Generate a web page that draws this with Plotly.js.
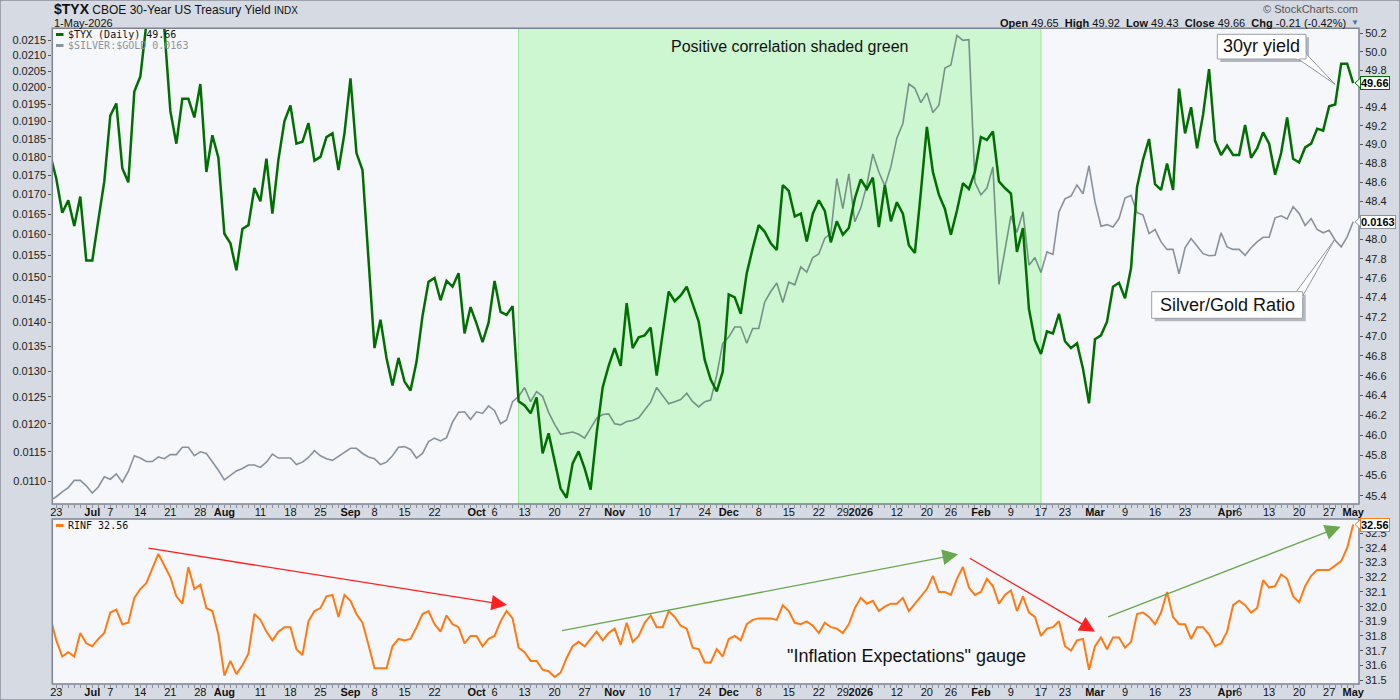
<!DOCTYPE html>
<html>
<head>
<meta charset="utf-8">
<script src="https://cdn.plot.ly/plotly-3.0.1.min.js"></script>
<style>
html,body{margin:0;padding:0;background:#d6dae2;}
#chart{width:1400px;height:700px;}
</style>
</head>
<body>
<div id="chart"></div>
<script>
// ---------------- DATA ----------------
const firstDay = '2025-06-20';
const lastDay = '2026-05-01';
const marketHolidays = ['2025-07-04','2025-09-01','2025-11-27','2025-12-25','2026-01-01','2026-01-19','2026-02-16','2026-04-03'];

// $TYX daily close (x10)
const tyx = [
48.89,48.64,48.28,48.41,48.14,48.45,47.78,47.78,48.20,48.61,
49.31,49.44,48.75,48.60,49.57,49.73,50.30,50.45,50.40,50.25,
49.36,49.01,49.49,49.49,49.29,49.65,48.71,49.10,48.86,48.06,
47.96,47.68,48.11,48.15,48.54,48.40,48.85,48.27,48.84,49.25,
49.42,49.01,49.03,49.23,48.83,48.87,49.08,49.12,48.73,49.12,
49.71,48.91,48.73,47.80,46.88,47.17,46.78,46.50,46.78,46.54,
46.45,46.74,47.21,47.56,47.60,47.37,47.57,47.51,47.65,47.03,
47.30,47.13,46.94,47.14,47.57,47.25,47.22,47.31,46.34,46.30,
46.22,46.38,45.82,46.02,45.75,45.47,45.38,45.72,45.84,45.67,
45.46,46.02,46.48,46.70,46.88,46.70,47.34,46.88,46.99,47.01,
47.09,46.60,47.03,47.46,47.36,47.42,47.51,47.32,47.15,46.76,
46.56,46.44,46.64,47.43,47.40,47.23,47.65,47.91,48.15,48.08,
47.96,47.89,48.57,48.51,48.24,48.27,47.98,48.27,48.41,48.30,
47.97,48.19,48.05,48.12,48.43,48.63,48.53,48.65,48.13,48.57,
48.19,48.39,48.27,47.94,47.86,48.50,49.19,48.71,48.47,48.32,
48.05,48.30,48.59,48.53,48.71,49.08,49.05,49.14,48.61,48.54,
48.48,47.87,48.12,47.28,46.96,46.82,47.05,47.03,47.23,46.95,
46.88,46.93,46.67,46.32,46.97,47.01,47.15,47.51,47.55,47.39,
47.70,48.55,48.84,49.06,48.58,48.52,48.80,48.52,49.60,49.12,
49.40,48.96,49.32,49.81,49.04,48.89,48.99,48.89,48.89,49.21,
48.86,48.96,49.13,49.01,48.68,48.91,49.29,48.85,48.81,48.97,
49.01,49.17,49.15,49.41,49.43,49.87,49.87,49.66
];

// $SILVER:$GOLD ratio
const silverGold = [
0.01068,0.01074,0.01082,0.01089,0.01101,0.01101,0.01092,0.01080,0.01090,0.01107,
0.01103,0.01112,0.01098,0.01116,0.01143,0.01139,0.01133,0.01133,0.01141,0.01138,
0.01145,0.01145,0.01158,0.01158,0.01143,0.01150,0.01147,0.01133,0.01118,0.01102,
0.01109,0.01117,0.01121,0.01127,0.01127,0.01123,0.01132,0.01146,0.01139,0.01139,
0.01139,0.01128,0.01132,0.01140,0.01152,0.01143,0.01138,0.01135,0.01142,0.01148,
0.01156,0.01156,0.01147,0.01141,0.01138,0.01128,0.01132,0.01143,0.01158,0.01159,
0.01154,0.01139,0.01147,0.01168,0.01174,0.01169,0.01175,0.01203,0.01221,0.01222,
0.01208,0.01222,0.01219,0.01233,0.01224,0.01200,0.01207,0.01241,0.01251,0.01268,
0.01241,0.01260,0.01251,0.01221,0.01199,0.01181,0.01183,0.01185,0.01181,0.01174,
0.01192,0.01210,0.01217,0.01218,0.01200,0.01198,0.01204,0.01206,0.01211,0.01226,
0.01240,0.01268,0.01252,0.01237,0.01241,0.01245,0.01257,0.01241,0.01231,0.01241,
0.01244,0.01292,0.01356,0.01369,0.01390,0.01390,0.01356,0.01387,0.01387,0.01444,
0.01467,0.01486,0.01443,0.01488,0.01482,0.01523,0.01511,0.01545,0.01553,0.01591,
0.01602,0.01742,0.01664,0.01754,0.01631,0.01666,0.01725,0.01808,0.01759,0.01722,
0.01773,0.01852,0.01894,0.02011,0.01998,0.01955,0.01984,0.01926,0.01947,0.02060,
0.02070,0.02165,0.02149,0.02151,0.01732,0.01699,0.01717,0.01773,0.01483,0.01566,
0.01646,0.01605,0.01656,0.01527,0.01545,0.01510,0.01558,0.01552,0.01656,0.01689,
0.01696,0.01725,0.01702,0.01776,0.01681,0.01620,0.01624,0.01618,0.01639,0.01691,
0.01698,0.01654,0.01648,0.01602,0.01612,0.01582,0.01564,0.01564,0.01507,0.01568,
0.01590,0.01572,0.01554,0.01549,0.01550,0.01604,0.01570,0.01564,0.01564,0.01550,
0.01568,0.01582,0.01593,0.01593,0.01641,0.01646,0.01638,0.01669,0.01652,0.01622,
0.01639,0.01612,0.01604,0.01610,0.01586,0.01570,0.01594,0.01631
];

// RINF
const rinf = [
31.93,31.77,31.66,31.69,31.66,31.82,31.75,31.73,31.78,31.82,
31.96,31.98,31.88,31.89,32.06,32.12,32.16,32.26,32.36,32.28,
32.20,32.07,32.02,32.27,32.12,32.15,31.99,31.97,31.81,31.53,
31.63,31.54,31.60,31.68,31.95,31.91,31.83,31.77,31.83,31.86,
31.86,31.71,31.67,31.90,31.97,31.99,32.07,32.08,31.93,32.08,
32.04,31.95,31.89,31.74,31.58,31.58,31.58,31.73,31.78,31.77,
31.78,31.86,31.95,31.97,31.88,31.83,31.94,31.88,31.86,31.75,
31.80,31.80,31.73,31.78,31.80,31.90,31.97,31.92,31.72,31.69,
31.63,31.63,31.57,31.56,31.52,31.55,31.65,31.73,31.76,31.73,
31.78,31.83,31.77,31.82,31.85,31.74,31.89,31.76,31.80,31.89,
31.94,31.86,31.86,31.97,31.93,31.87,31.85,31.72,31.71,31.62,
31.62,31.71,31.66,31.78,31.80,31.77,31.88,31.91,31.92,31.92,
31.92,31.91,32.01,31.97,31.89,31.88,31.90,31.87,31.82,31.89,
31.86,31.85,31.82,31.88,31.99,32.06,32.02,32.04,31.97,32.00,
32.02,32.02,32.06,31.97,32.02,32.07,32.12,32.21,32.10,32.10,
32.08,32.19,32.27,32.13,32.08,32.10,32.19,32.14,32.02,32.08,
32.11,31.97,32.07,31.96,31.93,31.80,31.85,31.86,31.90,31.73,
31.70,31.77,31.78,31.57,31.73,31.79,31.71,31.79,31.79,31.72,
31.76,31.95,31.96,31.93,31.88,31.96,32.10,31.93,31.88,31.88,
31.78,31.86,31.86,31.81,31.73,31.75,31.83,32.01,32.04,32.01,
31.96,31.99,32.18,32.13,32.14,32.22,32.19,32.07,32.03,32.14,
32.21,32.25,32.25,32.25,32.28,32.31,32.40,32.56
];

// date axis labels
const dateTickDays = ['2025-06-23','2025-07-01','2025-07-07','2025-07-14','2025-07-21','2025-07-28','2025-08-01','2025-08-11','2025-08-18','2025-08-25','2025-09-02','2025-09-08','2025-09-15','2025-09-22','2025-10-01','2025-10-06','2025-10-13','2025-10-20','2025-10-27','2025-11-03','2025-11-10','2025-11-17','2025-11-24','2025-12-01','2025-12-08','2025-12-15','2025-12-22','2025-12-29','2026-01-02','2026-01-12','2026-01-20','2026-01-26','2026-02-02','2026-02-09','2026-02-17','2026-02-23','2026-03-02','2026-03-09','2026-03-16','2026-03-23','2026-04-01','2026-04-06','2026-04-13','2026-04-20','2026-04-27','2026-05-01'];
const dateTickLabels = ['23','<b>Jul</b>','7','14','21','28','<b>Aug</b>','11','18','25','<b>Sep</b>','8','15','22','<b>Oct</b>','6','13','20','27','<b>Nov</b>','10','17','24','<b>Dec</b>','8','15','22','29','<b>2026</b>','12','20','26','<b>Feb</b>','9','17','23','<b>Mar</b>','9','16','23','<b>Apr</b>','6','13','20','27','<b>May</b>'];

const tyxTicks = [45.4,45.6,45.8,46.0,46.2,46.4,46.6,46.8,47.0,47.2,47.4,47.6,47.8,48.0,48.2,48.4,48.6,48.8,49.0,49.2,49.4,49.6,49.8,50.0,50.2];
const tyxTicksUnderTags = [49.6, 48.2];   // labels hidden behind the last-value tags
const ratioTicks = [0.0110,0.0115,0.0120,0.0125,0.0130,0.0135,0.0140,0.0145,0.0150,0.0155,0.0160,0.0165,0.0170,0.0175,0.0180,0.0185,0.0190,0.0195,0.0200,0.0205,0.0210,0.0215];
const rinfTicks = [31.5,31.6,31.7,31.8,31.9,32.0,32.1,32.2,32.3,32.4,32.5];

const shadeStart = '2025-10-10';
const shadeEnd = '2026-02-17';

// ---------------- BUILD ----------------
function buildTradingDays(from, to, holidays){
  const out = [];
  const d = new Date(from + 'T12:00:00Z');
  const end = new Date(to + 'T12:00:00Z');
  while (d <= end) {
    const wd = d.getUTCDay();
    const s = d.toISOString().slice(0,10);
    if (wd !== 0 && wd !== 6 && holidays.indexOf(s) < 0) out.push(s);
    d.setUTCDate(d.getUTCDate() + 1);
  }
  return out;
}
const days = buildTradingDays(firstDay, lastDay, marketHolidays);
const idx = d => days.indexOf(d);
const tickText = days.map(d => { const k = dateTickDays.indexOf(d); return k < 0 ? '' : dateTickLabels[k]; });

const W = 1400, H = 700;
const px = v => v / W;
const py = v => 1 - v / H;
const UI = 'Liberation Sans, Arial, sans-serif';
const MONO = 'DejaVu Sans Mono, monospace';

const lastTyx = tyx[tyx.length-1];
const lastRatio = silverGold[silverGold.length-1];
const lastRinf = rinf[rinf.length-1];

const topDom = [py(504), py(28.3)];
const botDom = [py(684), py(519)];
const xDom = [px(52.3), px(1359)];
const tyxRange = [1.656272, 1.701176];
const ratioRange = [-1.973786, -1.659840];
const rinfRange = [31.4727, 32.5975];

// paper y of a value on an axis (for the tag notches)
const toPaper = (v, dom, rng, isLog) => {
  const c = isLog ? Math.log10(v) : v;
  return dom[0] + (c - rng[0]) / (rng[1] - rng[0]) * (dom[1] - dom[0]);
};

const xRange = [0.34, 217.97];
const xCommon = {
  type:'category', range:xRange, autorange:false,
  tickmode:'array', tickvals:days, ticktext:tickText, tickangle:0,
  ticks:'outside', ticklen:3, tickcolor:'#8a909b', tickwidth:1,
  ticklabelstandoff:-5,
  tickfont:{family:UI, size:11, color:'#111'},
  showgrid:false, zeroline:false, showline:false, fixedrange:true
};
const yTickFont = {family:UI, size:11, color:'#222'};

const traces = [
  {x:days, y:silverGold, type:'scatter', mode:'lines', xaxis:'x', yaxis:'y',
   line:{color:'rgba(30,46,62,0.5)', width:1.6}, hoverinfo:'skip'},
  {x:days, y:tyx, type:'scatter', mode:'lines', xaxis:'x', yaxis:'y2',
   line:{color:'#006e00', width:2.5}, hoverinfo:'skip'},
  {x:days, y:rinf, type:'scatter', mode:'lines', xaxis:'x2', yaxis:'y3',
   line:{color:'#ff7a12', width:2}, hoverinfo:'skip'}
];

function notch(yPaper, color){
  const dy = 5 / H;
  return {type:'path', xref:'paper', yref:'paper',
    path:'M'+px(1360.5)+','+(yPaper+dy)+' L'+px(1355)+','+yPaper+' L'+px(1360.5)+','+(yPaper-dy)+' Z',
    fillcolor:'#ffffff', line:{color:color, width:1}, layer:'above'};
}

const shapes = [
  // positive correlation shading
  {type:'rect', xref:'x', yref:'y domain', x0:idx(shadeStart), x1:idx(shadeEnd), y0:0, y1:1,
   fillcolor:'rgb(205,247,209)', line:{color:'rgb(150,232,150)', width:1}, layer:'below'},
  // panel borders
  {type:'rect', xref:'paper', yref:'paper', x0:px(52.3), x1:px(1359), y0:py(504), y1:py(28.3),
   line:{color:'#7d8491', width:1.5}, layer:'above'},
  {type:'rect', xref:'paper', yref:'paper', x0:px(52.3), x1:px(1359), y0:py(684), y1:py(519),
   line:{color:'#7d8491', width:1.5}, layer:'above'},
  // outer frame
  {type:'rect', xref:'paper', yref:'paper', x0:0, x1:1, y0:0, y1:1,
   line:{color:'#8a909b', width:1.5}, layer:'above'},
  // legend swatches
  {type:'line', xref:'paper', yref:'paper', x0:px(56), x1:px(63.5), y0:py(34.5), y1:py(34.5), line:{color:'#006e00', width:3}},
  {type:'line', xref:'paper', yref:'paper', x0:px(56), x1:px(63.5), y0:py(45.5), y1:py(45.5), line:{color:'#8a949c', width:3}},
  {type:'line', xref:'paper', yref:'paper', x0:px(56), x1:px(63.5), y0:py(525.5), y1:py(525.5), line:{color:'#ff7a12', width:3}},
  // callout 1: 30yr yield
  {type:'rect', xref:'paper', yref:'paper', x0:px(1220.3), x1:px(1309), y0:py(62), y1:py(37.3),
   fillcolor:'#b3b7bf', line:{width:0}, layer:'above'},
  {type:'path', xref:'paper', yref:'paper',
   path:'M'+px(1296)+','+py(57.5)+' L'+px(1335)+','+py(84.3)+' L'+px(1304.5)+','+py(52)+' Z',
   fillcolor:'#ffffff', line:{color:'#8f949c', width:1}, layer:'above'},
  {type:'rect', xref:'paper', yref:'paper', x0:px(1217.3), x1:px(1306), y0:py(59), y1:py(34.3),
   fillcolor:'#ffffff', line:{color:'#9a9ea6', width:1}, layer:'above'},
  {type:'path', xref:'paper', yref:'paper',
   path:'M'+px(1296.7)+','+py(58.5)+' L'+px(1305.5)+','+py(53.5),
   line:{color:'#ffffff', width:2}, layer:'above'},
  // callout 2: Silver/Gold Ratio
  {type:'rect', xref:'paper', yref:'paper', x0:px(1154.7), x1:px(1305.7), y0:py(321.3), y1:py(294.7),
   fillcolor:'#b3b7bf', line:{width:0}, layer:'above'},
  {type:'path', xref:'paper', yref:'paper',
   path:'M'+px(1295)+','+py(293.5)+' L'+px(1335)+','+py(239)+' L'+px(1301.5)+','+py(298)+' Z',
   fillcolor:'#ffffff', line:{color:'#8f949c', width:1}, layer:'above'},
  {type:'rect', xref:'paper', yref:'paper', x0:px(1151.7), x1:px(1302.7), y0:py(318.3), y1:py(291.7),
   fillcolor:'#ffffff', line:{color:'#9a9ea6', width:1}, layer:'above'},
  {type:'path', xref:'paper', yref:'paper',
   path:'M'+px(1296.5)+','+py(292.2)+' L'+px(1302.2)+','+py(297)+'',
   line:{color:'#ffffff', width:2}, layer:'above'},
  // last-value tag notches
  notch(toPaper(lastTyx, topDom, tyxRange, true), '#006e00'),
  notch(toPaper(lastRatio, topDom, ratioRange, true), '#8a949c'),
  notch(toPaper(lastRinf, botDom, rinfRange, false), '#ff7a12')
];

const NB = '\u00a0';
const annotations = [
  // header
  {xref:'paper', yref:'paper', x:px(52), y:py(9.5), xanchor:'left', yanchor:'middle', showarrow:false,
   text:"<b><span style='font-size:14px'>$TYX</span></b> CBOE 30-Year US Treasury Yield <span style='font-size:10px'>INDX</span>",
   font:{family:UI, size:12, color:'#111'}},
  {xref:'paper', yref:'paper', x:px(52), y:py(22.7), xanchor:'left', yanchor:'middle', showarrow:false,
   text:'1-May-2026', font:{family:UI, size:11, color:'#111'}},
  {xref:'paper', yref:'paper', x:px(1360), y:py(9), xanchor:'right', yanchor:'middle', showarrow:false,
   text:'\u00a9 StockCharts.com', font:{family:UI, size:11, color:'#555'}},
  {xref:'paper', yref:'paper', x:px(1348), y:py(22.7), xanchor:'right', yanchor:'middle', showarrow:false,
   text:'<b>Open</b> 49.65'+NB+NB+'<b>High</b> 49.92'+NB+NB+'<b>Low</b> 49.43'+NB+NB+'<b>Close</b> 49.66'+NB+NB+'<b>Chg</b> -0.21 (-0.42%)',
   font:{family:UI, size:11, color:'#111'}},
  {xref:'paper', yref:'paper', x:px(1355), y:py(23), xanchor:'center', yanchor:'middle', showarrow:false,
   text:'\u25BC', font:{family:UI, size:8, color:'#4a6ea8'}},
  // legends
  {xref:'paper', yref:'paper', x:px(66), y:py(34.5), xanchor:'left', yanchor:'middle', showarrow:false,
   text:'$TYX (Daily) ' + lastTyx.toFixed(2), font:{family:MONO, size:10, color:'#111'}},
  {xref:'paper', yref:'paper', x:px(66), y:py(45.5), xanchor:'left', yanchor:'middle', showarrow:false,
   text:'$SILVER:$GOLD ' + lastRatio.toFixed(4), font:{family:MONO, size:10, color:'#8a949c'}},
  {xref:'paper', yref:'paper', x:px(66), y:py(525.5), xanchor:'left', yanchor:'middle', showarrow:false,
   text:'RINF ' + lastRinf.toFixed(2), font:{family:MONO, size:10, color:'#111'}},
  // text notes
  {xref:'paper', yref:'paper', x:px(789), y:py(46.7), xanchor:'center', yanchor:'middle', showarrow:false,
   text:'Positive correlation shaded green', font:{family:UI, size:16, color:'#111'}},
  {xref:'paper', yref:'paper', x:px(1261.7), y:py(46.5), xanchor:'center', yanchor:'middle', showarrow:false,
   text:'30yr yield', font:{family:UI, size:18, color:'#111'}},
  {xref:'paper', yref:'paper', x:px(1227.2), y:py(305), xanchor:'center', yanchor:'middle', showarrow:false,
   text:'Silver/Gold Ratio', font:{family:UI, size:18, color:'#111'}},
  {xref:'paper', yref:'paper', x:px(906), y:py(655.7), xanchor:'center', yanchor:'middle', showarrow:false,
   text:'"Inflation Expectations" gauge', font:{family:UI, size:18, color:'#111'}},
  // value tags
  {xref:'paper', yref:'y2', x:px(1360), y:Math.log10(lastTyx), xanchor:'left', yanchor:'middle', showarrow:false,
   text:'<b>' + lastTyx.toFixed(2) + '</b>', font:{family:UI, size:11, color:'#000'},
   bgcolor:'#ffffff', bordercolor:'#006e00', borderwidth:1, borderpad:0},
  {xref:'paper', yref:'y', x:px(1360), y:Math.log10(lastRatio), xanchor:'left', yanchor:'middle', showarrow:false,
   text:'<b>' + lastRatio.toFixed(4) + '</b>', font:{family:UI, size:11, color:'#000'},
   bgcolor:'#ffffff', bordercolor:'#8a949c', borderwidth:1, borderpad:0},
  {xref:'paper', yref:'y3', x:px(1360), y:lastRinf, xanchor:'left', yanchor:'middle', showarrow:false,
   text:'<b>' + lastRinf.toFixed(2) + '</b>', font:{family:UI, size:11, color:'#000'},
   bgcolor:'#ffffff', bordercolor:'#ff7a12', borderwidth:1, borderpad:0},
  // trend arrows on RINF
  {xref:'x2', yref:'y3', axref:'x2', ayref:'y3', x:76.07, y:32.011, ax:16.1, ay:32.40, text:'',
   showarrow:true, arrowhead:2, arrowsize:2.4, arrowwidth:1.3, arrowcolor:'#ff2020', standoff:0},
  {xref:'x2', yref:'y3', axref:'x2', ayref:'y3', x:151.2, y:32.357, ax:85.0, ay:31.834, text:'',
   showarrow:true, arrowhead:2, arrowsize:2.4, arrowwidth:1.3, arrowcolor:'#6aa84f', standoff:0},
  {xref:'x2', yref:'y3', axref:'x2', ayref:'y3', x:174.0, y:31.829, ax:152.9, ay:32.336, text:'',
   showarrow:true, arrowhead:2, arrowsize:2.4, arrowwidth:1.3, arrowcolor:'#ff2020', standoff:0},
  {xref:'x2', yref:'y3', axref:'x2', ayref:'y3', x:214.9, y:32.545, ax:175.95, ay:31.927, text:'',
   showarrow:true, arrowhead:2, arrowsize:2.4, arrowwidth:1.3, arrowcolor:'#6aa84f', standoff:0}
];

const layout = {
  width:W, height:H,
  margin:{l:0, r:0, t:0, b:0},
  paper_bgcolor:'#d6dae2', plot_bgcolor:'#f5f7fb',
  showlegend:false, hovermode:false,
  font:{family:UI, size:11, color:'#111'},
  xaxis: Object.assign({}, xCommon, {domain:xDom, anchor:'y'}),
  xaxis2: Object.assign({}, xCommon, {domain:xDom, anchor:'y3'}),
  yaxis: {domain:topDom, anchor:'x', side:'left', type:'log', autorange:false,
    range:ratioRange, tickmode:'array', tickvals:ratioTicks,
    ticktext:ratioTicks.map(v => v.toFixed(4)), ticks:'outside', ticklen:3, tickcolor:'#555',
    tickfont:yTickFont, showgrid:false, zeroline:false, showline:false, fixedrange:true},
  yaxis2: {overlaying:'y', anchor:'x', side:'right', type:'log', autorange:false,
    range:tyxRange, tickmode:'array', tickvals:tyxTicks,
    ticktext:tyxTicks.map(v => tyxTicksUnderTags.indexOf(v) >= 0 ? '' : v.toFixed(1)),
    ticks:'outside', ticklen:3, tickcolor:'#555',
    tickfont:yTickFont, showgrid:false, zeroline:false, showline:false, fixedrange:true},
  yaxis3: {domain:botDom, anchor:'x2', side:'right', autorange:false,
    range:rinfRange, tickmode:'array', tickvals:rinfTicks,
    ticktext:rinfTicks.map(v => v.toFixed(1)), ticks:'outside', ticklen:3, tickcolor:'#555',
    tickfont:yTickFont, showgrid:false, zeroline:false, showline:false, fixedrange:true},
  shapes:shapes,
  annotations:annotations
};

Plotly.newPlot('chart', traces, layout, {staticPlot:true, displayModeBar:false});
</script>
</body>
</html>
